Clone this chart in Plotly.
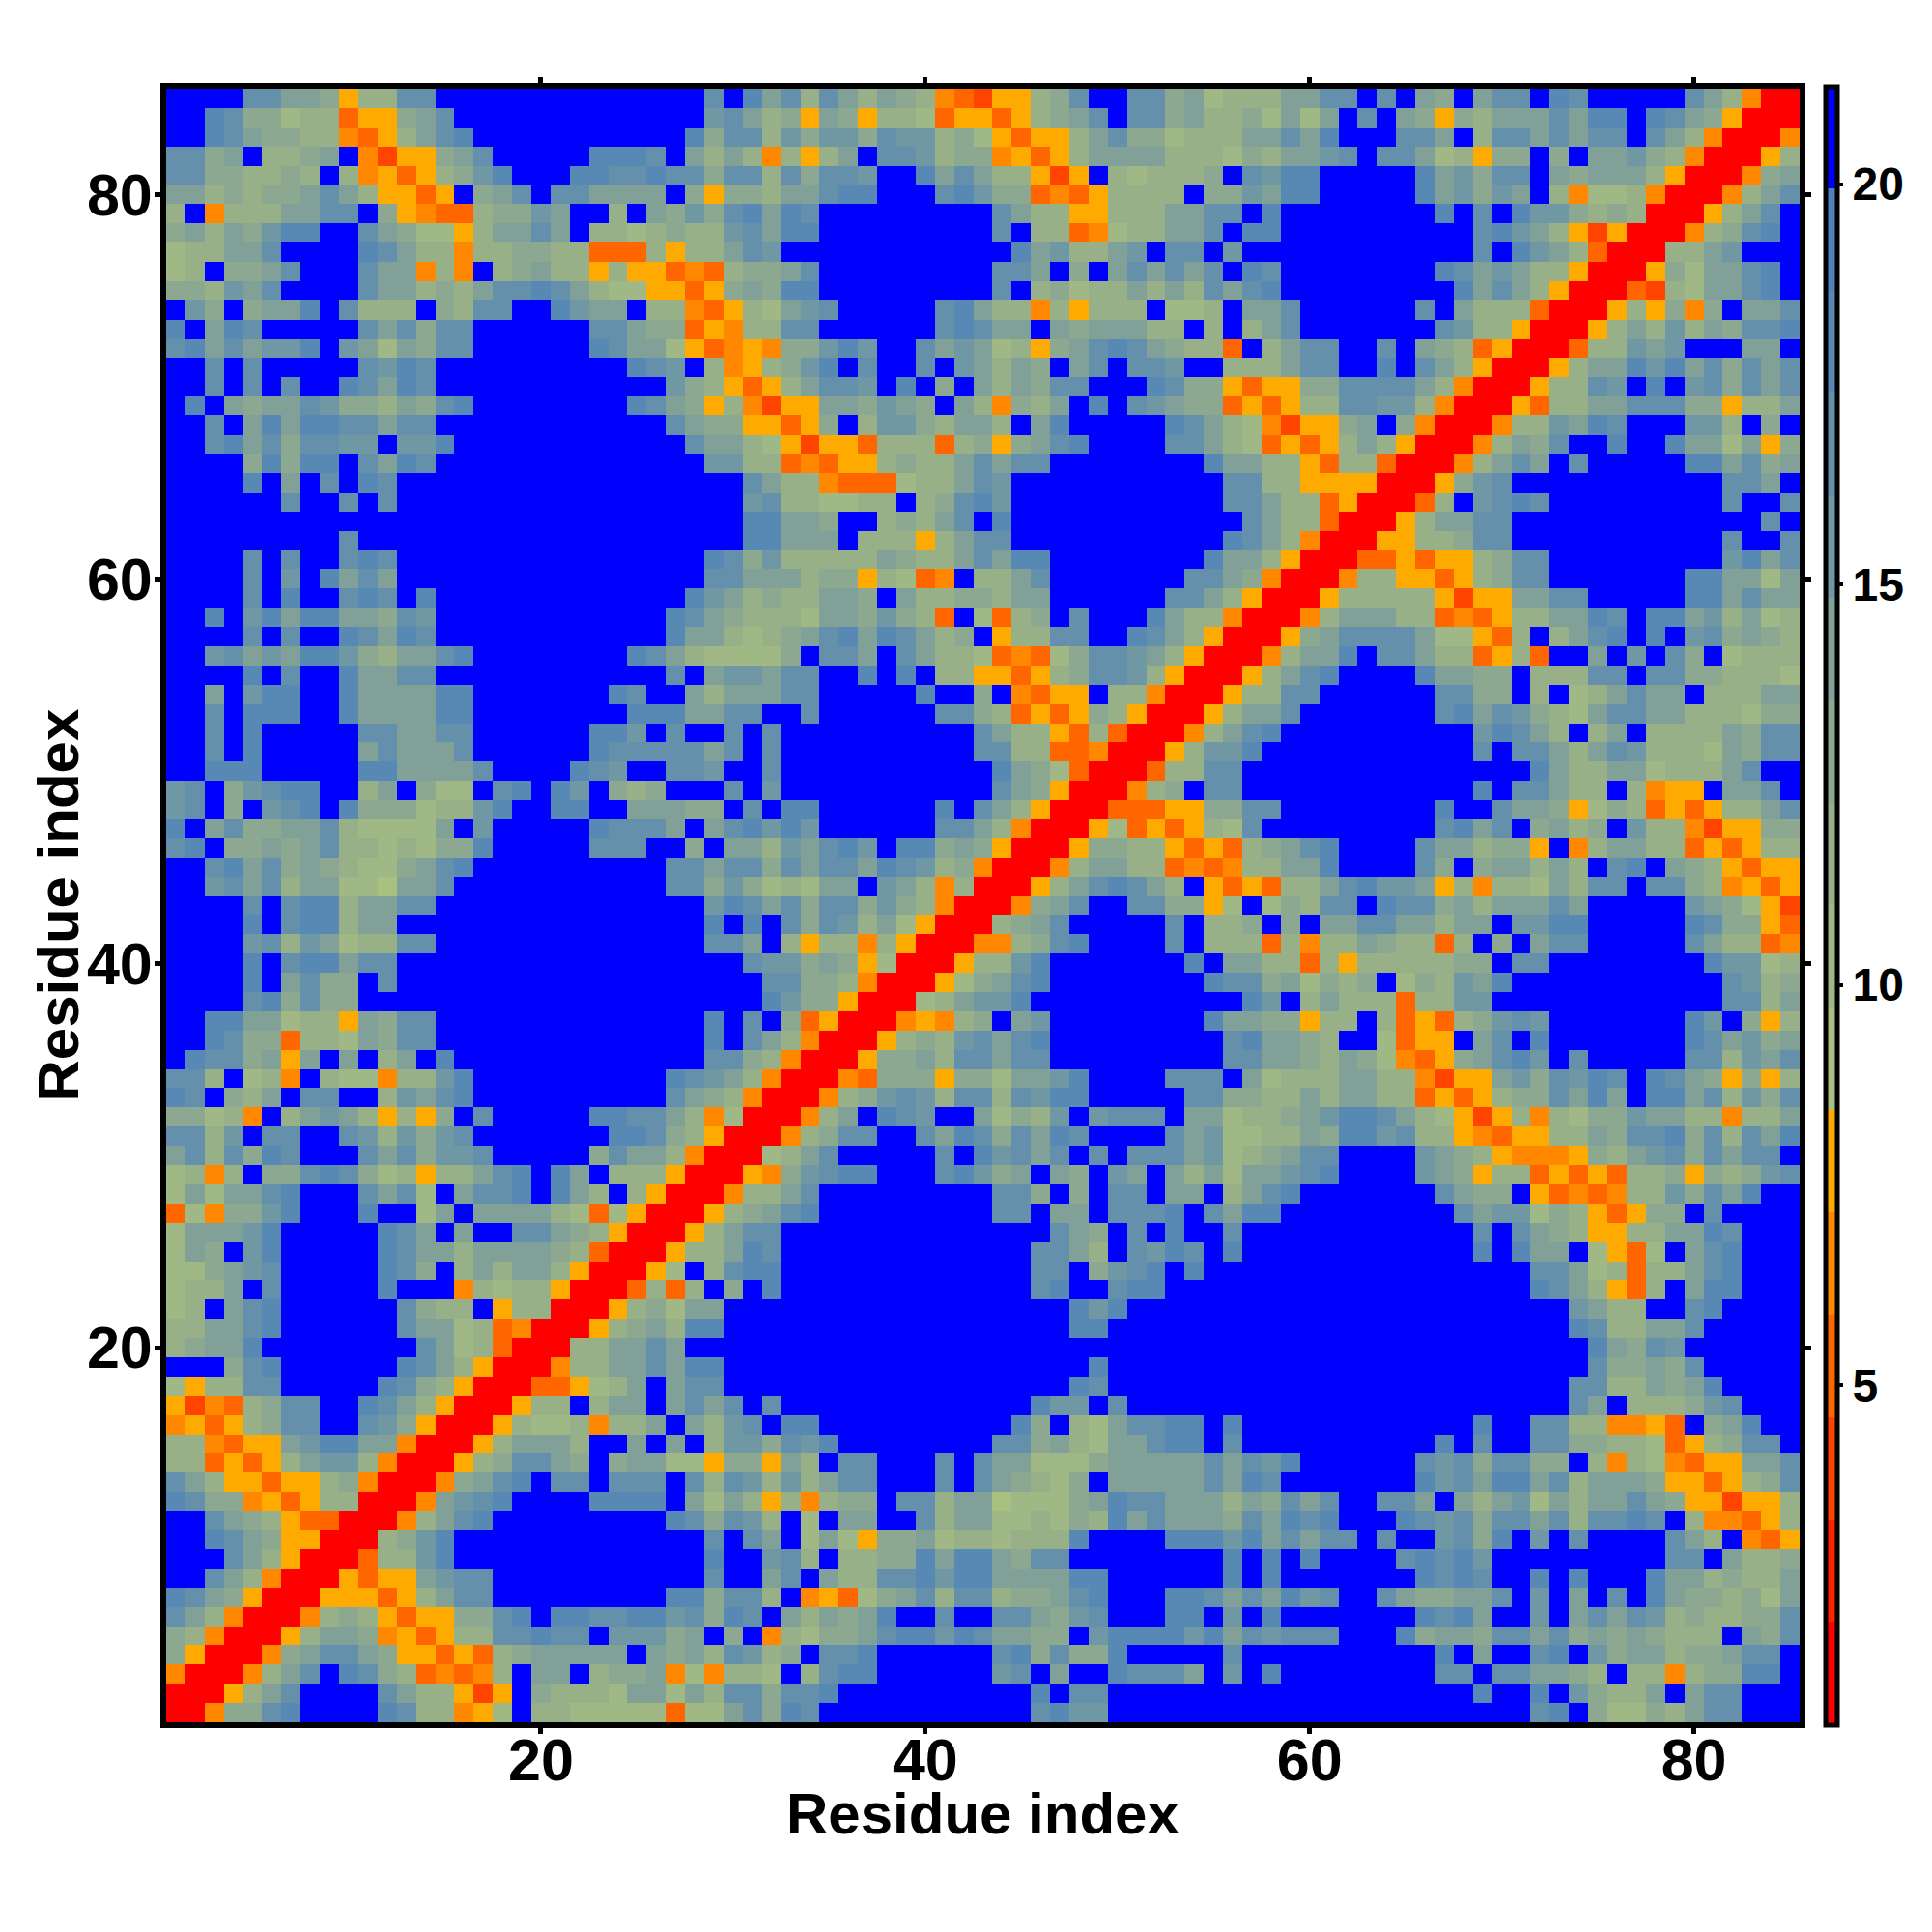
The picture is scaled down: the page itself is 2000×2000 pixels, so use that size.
import numpy as np
import plotly.graph_objects as go

# Contact-distance bands. One string per residue row,
# from row 85 down to row 1, holding columns 1..row (the matrix is symmetric).
# Each hex digit is the colour-band number of a cell: 0 = closest, f = farthest.
BAND_ROWS = [
"ffffccaa9588cc ffffffffffffff cfdac8ca8a984325589cffcc9a788 8aaccfcfa9faccfdcfffffca8400",
"ffdc997883559ac fffffffffffff bca895a958873553589acfcc9a889 7a7afcfa9598aaacaddfdca9500",
"ffdca99884358acd fffffffffff d 9cc8b9bb9cbb89753558ac997888a acadfffccaf8ccacaccfca8400",
"cc9af889af42559ac fffff dddc fa 8a84858afccb89945358aaaa88879 8aabcfcca78599f9faab98400",
"cc998898f8453589bd fff dd cc dcc 9cc8c9ccbffdaca88525f878889fc bddfffffdab9ccfa9aaa8500",
"aa89899aca8 55 35 f 9ac f cc aaaa f9 5998aacddfffcdb9934358888f99b addfffffdab9baf84778400",
"8f4888aaccf95433899baff8fa9b 9cdadcfffffffffca8855888aaccf dffffffffdfcfdbb989800",
"9a8a9bddffca97758aacaf887898 8bcaddfffffffffcf8834788aacfd dffffffffffcdba852500",
"788aacffffdca884889988333858 8acbffffffffffffdab88abfccfbf fffffffffffcfdba8300",
"78f99acfffcaa484f89a88585534 3899acfffffffffccaf9facacacfd cffffffffdcaba88500",
"998bacffffcaa898accdca877553 59a9ddfffffffffcf89788a8a8cac dfffffffffdaca8500",
"fb9f9aadfc888f98ccffdbaaf884 3587abcfffffcda88485888f778fa acffffffcfa888300",
"dfadcfffffcac9ccffffffcca993 5488ccffffffcdcaafa9aaa88f8f8 acfffffffcb88500",
"cdacabbdfba7a9ccffffffdcaa75 345499bdbffcaba7859acdca9883f 8accffcfa983500",
"ffcfcfffffcbdcffffffffffdcbf 84589bdfcffcfba8a9facfccbff88 8accffdfca8500",
"ffcfcfcffdcadcffffffffffffb9 85358accbfdf9fa8a9ccfffdc9953 5599cccca8400",
"fdfa9aacb998a9cdffffffffdca9 584255aa9ba9fa8498afdfcba9935 3588ccbb8400",
"ffcfadaddccacc ffffffffffff ca 9955359f8bb98aa8fadfffffdca87 42559af9400",
"ffcdac9ccbbfbbd ffffffffffff c aa875255388838959acdffffcca87 35358a8500",
"ffff9d9ddfcadc ffffffffffffff bb88343558988acacc ffffffff daa 885388300",
"ffffdfafcfdc ffffffffffffffff ffca884333788acb fffffffffff cc 88555500",
"ffffffcffcfc ffffffffffffffff ffbc887788f89cdb fffffffffff cc a883500",
"ffffffffffffffffffffffffffff ffddaa9ff898acfd ffffffffffff c a88300",
"fffffffffcffffffffffffffffff ffddaaaf88858acc fffffffffff dc a8400",
"ffffcfcffcdc ffffffffffffffff dc9b88888a988acadd ffffffff daa 8500",
"ffffcfbfdaca ffffffffffffffff ccaaa89958734f88ac fffffff cca9 400",
"ffffcfdffcdcfd fffffffffffff d ba8988aa9fa88998aa ffffff cca85 00",
"ffdfbdaddaa9cb ffffffffffff dc a98887aa9b983f7389fcfffda8840 0",
"ffffcfcffdcadc ffffffffffff da a8789acdadca89f588ccffdca8500",
"ffbcabaddb98aacd ffffffff dca8 77779fccafca88734379ccba8500",
"ffffdfcffdaacc ffffffffffff cf abbaccffdfdf88553589ccb8500",
"ffafbddffdaaaadd fffffff dcffa 8aaaccfffffdff9f4355f88400",
"ffcfdddffdaaaadd ffffffff ddda accffcffffffcc98353598500",
"ffcfdfffffccaacc ffffff ddbfcf fcfc ffffffffff ca88538300",
"ffcfdfffffacaaac ffffff dccccc acfc ffffffffff cc8833400",
"ffdddfffffddaaaac ffff dcbffcc bffc fffffffffff da97300",
"bcf9bcddff8af977fcdfdbf989ff fcfb fffffffffff ca9500",
"bcf9fbcdfd999788bdffddffaaa9 9fcfddffffffdfca8500",
"dfac99aac87777afb fffff dcccaf acdbdbffffffcca8400",
"cdf99a9ac8878799d fffff cccff9 faa8bacdbfdd9a9500",
"ffcdac9a98779acd ffffffffff cc acc9caccadcb89400",
"ffbcac8aa776aac fffffffffff cc 9b9787aafba84800",
"ffffcfcdd8aacc ffffffffffffff bdcac9cc9b98400",
"ffffdfcdd8aa ffffffffffffffff dfdfc9cb8a7500",
"ffffbc8ba788cc ffffffffffffff ccaf858848500",
"ffffdfcddacc ffffffffffffffff ffcbb9a95700",
"ffffdfac99fc ffffffffffffffff fffcc998400",
"ffffcd9c99 ffffffffffffffffff fffdb99500",
"ffddaa7885a9cc ffffffffffffff dfcf93500",
"ffdc993887a9cc ffffffffffffff dfca8400",
"fdcc9a5afaf8afd fffffffffffff cc98400",
"cc8f784f877488bd ffffffffff dc ba8400",
"dcf98afccff8bacd ffffffffff ca 98400",
"99784f8aba85859fc fffff ddcca8 4700",
"cc8bfccffcb8b9bc fffffff ddc98 500",
"ac8c9dcfffcac9bbc fffff 9caa84 00",
"7848f99cdc978588acdfdaf88850 0",
"7a7aacdfffcac7faccdfda8f8500",
"37499bdfffdff7afaaaa8737500",
"7aaabdfffffdcafaffcca98500",
"7a9fbdfffffdcaa8aaaa98300",
"779abcfffffdc9f8a8aa8500",
"788afcfffffdfff48788500",
"78facdffffffc988f58800",
"88aacdffffffcaa783400",
"89aadffffffffca78300",
"fff9cdffffffdca8500",
"7588ccfffffdc98500",
"524389ccffdca8500",
"453589ccffcb9500",
"884355abddaa400",
"8835358abb8400",
"ca85535589400",
"dc9945358800",
"ffca9853300",
"ffdca95500",
"fffca8500",
"ffca8400",
"dca9500",
"ca8400",
"98400",
"9500",
"400",
"00",
"0",
]

RESIDUES = list(range(1, 86))
TICKS = [20, 40, 60, 80]
BAR_TICKS = [5, 10, 15, 20]
BAND_COLOURS = [
    "#ff0000", "#ff2200", "#ff4400", "#ff6600", "#ff8800", "#ffaa00",
    "#a8c080", "#a0b885", "#98b088", "#8ca890", "#80a098", "#7098a4",
    "#6490ac", "#5888b4", "#5080b8", "#0000ff",
]
Z_MIN = 0.76
Z_MAX = 21.22
AXIS_LABEL = "Residue index"

FONT = "Liberation Sans"
n = len(RESIDUES)
band = (Z_MAX - Z_MIN) / len(BAND_COLOURS)

bad = []
z = np.zeros((n, n))
for k, text in enumerate(BAND_ROWS):
    row = n - k
    digits = text.replace(" ", "")
    if len(digits) != row:
        bad.append((row, len(digits)))
        continue
    for col, ch in enumerate(digits, start=1):
        v = Z_MIN + (int(ch, 16) + 0.5) * band
        z[row - 1, col - 1] = v
        z[col - 1, row - 1] = v
if bad:
    raise ValueError(f"bad rows {bad}")

scale = []
for i, c in enumerate(BAND_COLOURS):
    scale.append([i / len(BAND_COLOURS), c])
    scale.append([(i + 1) / len(BAND_COLOURS), c])

PLOT_L, PLOT_R, PLOT_T, PLOT_B = 164, 1855, 84, 1775
W = H = 2000
SPAN = PLOT_R - PLOT_L

fig = go.Figure(
    go.Heatmap(
        x=RESIDUES,
        y=RESIDUES,
        z=z.tolist(),
        zmin=Z_MIN,
        zmax=Z_MAX,
        colorscale=scale,
        colorbar=dict(
            x=(1881.5 - PLOT_L) / SPAN,
            xanchor="left",
            xpad=0,
            y=0.5,
            yanchor="middle",
            ypad=0,
            len=1.003,
            lenmode="fraction",
            thickness=12,
            thicknessmode="pixels",
            outlinewidth=5,
            outlinecolor="black",
            tickmode="array",
            tickvals=BAR_TICKS,
            ticktext=[str(t) for t in BAR_TICKS],
            ticks="outside",
            ticklen=4,
            tickwidth=4,
            tickcolor="black",
            tickfont=dict(family=FONT, size=48, color="black", weight=700),
        ),
    )
)

axis = dict(
    tickmode="array",
    tickvals=TICKS,
    ticktext=[str(t) for t in TICKS],
    range=[0.5, 85.5],
    showgrid=False,
    zeroline=False,
    showline=True,
    linecolor="black",
    linewidth=6,
    mirror="allticks",
    ticks="outside",
    ticklen=6,
    tickwidth=5,
    tickcolor="black",
    tickfont=dict(family=FONT, size=61, color="black", weight=700),
)

title_font = dict(family=FONT, size=60, color="black", weight=700)

fig.update_layout(
    width=W,
    height=H,
    autosize=False,
    margin=dict(l=PLOT_L, r=W - PLOT_R, t=PLOT_T, b=H - PLOT_B, pad=0),
    paper_bgcolor="white",
    plot_bgcolor="white",
    xaxis=dict(axis, ticklabelstandoff=-25),
    yaxis=dict(axis, ticklabelstandoff=-10),
    annotations=[
        dict(
            text=AXIS_LABEL,
            xref="paper",
            yref="paper",
            x=0.5,
            y=(PLOT_B - 1869.5) / SPAN,
            xanchor="center",
            yanchor="middle",
            showarrow=False,
            font=title_font,
        ),
        dict(
            text=AXIS_LABEL,
            xref="paper",
            yref="paper",
            x=(52 - PLOT_L) / SPAN,
            y=0.5,
            xanchor="center",
            yanchor="middle",
            textangle=-90,
            showarrow=False,
            font=title_font,
        ),
    ],
)

fig.write_html("out.html")
